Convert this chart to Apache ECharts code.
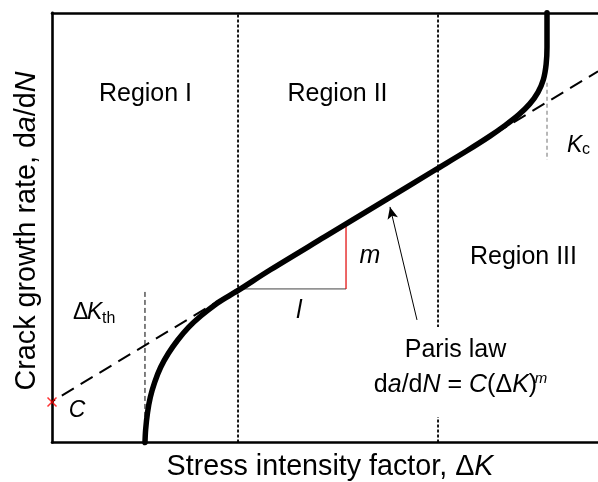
<!DOCTYPE html>
<html>
<head>
<meta charset="utf-8">
<script src="https://cdn.jsdelivr.net/npm/echarts@6/dist/echarts.min.js"></script>
<style>
html,body{margin:0;padding:0;background:#fff;}
#chart{width:598px;height:482px;}
</style>
</head>
<body>
<div id="chart"></div>
<script>
// Schematic values (arbitrary log units, 0-100 on both axes)
const curveDK   = [17.03, 17.15, 17.5, 18.0, 18.8, 19.9, 21.3, 23.0, 25.0, 27.3, 30.0, 32.5, 34.1, 40.0, 50.0, 60.0, 70.0, 76.0, 80.2, 83.0, 85.5, 87.5, 89.0, 90.0, 90.5, 90.66, 90.66];
const curveRate = [0, 3, 7, 10.5, 14, 17.5, 20.7, 23.8, 26.8, 29.5, 32.2, 34.2, 35.4, 40.2, 47.9, 55.6, 63.3, 67.9, 71.3, 73.8, 76.3, 78.8, 81.5, 84.5, 88, 92, 100];
const parisDK   = [-1.65, 100];
const parisRate = [8.27, 86.38];
const regionBounds = [34.07, 70.70];
const dKth = 17.03, dKthTop = 35.04;
const Kc = 90.66, KcRange = [83.7, 65.77];
const triDK = [34.9, 53.85], triRate = [35.74, 50.41];
const arrowFrom = [66.85, 28.52], arrowTo = [61.90, 54.83];
const C_point = [0, 9.43];

const FF = "'Liberation Sans', Arial, sans-serif";
const zip = (a, b) => a.map((v, i) => [v, b[i]]);

const chart = echarts.init(document.getElementById('chart'), null, {renderer: 'canvas'});
const axisLine = {show: true, lineStyle: {color: '#000', width: 2.6}};
const bare = {axisTick: {show: false}, axisLabel: {show: false}, splitLine: {show: false}};

function txt(x, y, text, size, opts) {
  return {
    type: 'text', x: x, y: y, z: 100,
    style: Object.assign({
      text: text, font: size + 'px ' + FF, fill: '#000',
      align: 'center', verticalAlign: 'middle', textAlign: 'center', textVerticalAlign: 'middle'
    }, opts || {})
  };
}
function itxt(x, y, text, size, opts) {
  return txt(x, y, text, size, Object.assign({font: 'italic ' + size + 'px ' + FF}, opts || {}));
}

const series = [];
// Paris-law dashed line
series.push({type: 'line', data: zip(parisDK, parisRate), symbol: 'none', clip: false, z: 3,
  lineStyle: {color: '#000', width: 2, type: [14, 8]}, animation: false, silent: true});
// Region boundaries
regionBounds.forEach(b => series.push({type: 'line', data: [[b, 0], [b, 100]], symbol: 'none', z: 2,
  lineStyle: {color: '#000', width: 1.8, type: [3, 2]}, animation: false, silent: true}));
// Threshold and Kc markers
series.push({type: 'line', data: [[dKth, dKthTop], [dKth, 0]], symbol: 'none', z: 2,
  lineStyle: {color: '#000', width: 1, type: [5, 3]}, animation: false, silent: true});
series.push({type: 'line', data: [[Kc, KcRange[0]], [Kc, KcRange[1]]], symbol: 'none', z: 2,
  lineStyle: {color: '#888', width: 1.2, type: [4, 3]}, animation: false, silent: true});
// slope triangle
series.push({type: 'line', data: [[triDK[0], triRate[0]], [triDK[1], triRate[0]]], symbol: 'none', z: 2,
  lineStyle: {color: '#444', width: 1}, animation: false, silent: true});
series.push({type: 'line', data: [[triDK[1], triRate[0]], [triDK[1], triRate[1]]], symbol: 'none', z: 2,
  lineStyle: {color: '#e00000', width: 1.2}, animation: false, silent: true});
// main curve
series.push({type: 'line', data: zip(curveDK, curveRate), symbol: 'none', smooth: 0.3, clip: false, z: 5,
  lineStyle: {color: '#000', width: 5.5, cap: 'round', join: 'round'}, animation: false, silent: true,
  markLine: {silent: true, symbol: ['none', 'arrow'], symbolSize: [8, 12], label: {show: false},
    lineStyle: {color: '#000', width: 1, type: 'solid'}, animation: false,
    data: [[{coord: arrowFrom}, {coord: arrowTo}]]}});
// C marker
series.push({type: 'scatter', data: [C_point], symbol: 'path://M0,0L10,10M10,0L0,10', symbolSize: 9, z: 6, clip: false,
  itemStyle: {color: 'none', borderColor: '#ff0000', borderWidth: 1.5}, animation: false, silent: true});

const option = {
  backgroundColor: '#fff',
  animation: false,
  grid: {left: 52, right: 0, top: 12.8, bottom: 39.5},
  xAxis: [
    Object.assign({type: 'value', min: 0, max: 100, position: 'bottom', axisLine: axisLine}, bare),
    Object.assign({type: 'value', min: 0, max: 100, position: 'top', axisLine: axisLine}, bare)
  ],
  yAxis: Object.assign({type: 'value', min: 0, max: 100, axisLine: axisLine}, bare),
  series: series,
  graphic: [
    txt(145.5, 94, 'Region I', 25),
    txt(337.5, 94, 'Region II', 25),
    txt(523.5, 257, 'Region III', 25),
    itxt(370, 256, 'm', 25),
    itxt(299, 311, 'l', 25),
    txt(73, 313, 'Δ', 23, {align: 'left', textAlign: 'left'}),
    itxt(87, 313, 'K', 23, {align: 'left', textAlign: 'left'}),
    txt(102, 319, 'th', 16, {align: 'left', textAlign: 'left'}),
    itxt(567, 146, 'K', 23, {align: 'left', textAlign: 'left'}),
    txt(582, 150, 'c', 16, {align: 'left', textAlign: 'left'}),
    itxt(77, 411, 'C', 23),
    {type: 'text', x: 455.5, y: 372, z: 90, style: {
      text: '{n|Paris law}\n{n|d}{i|a}{n|/d}{i|N}{n| = }{i|C}{n|(Δ}{i|K}{n|)}',
      align: 'center', verticalAlign: 'middle', textAlign: 'center', textVerticalAlign: 'middle',
      backgroundColor: '#fff', padding: [6, 0, 14, 0],
      rich: {n: {font: '25px ' + FF, fill: '#000', lineHeight: 35}, i: {font: 'italic 25px ' + FF, fill: '#000', lineHeight: 35}}
    }},
    itxt(541, 379, 'm', 15, {}),
    {type: 'text', x: 330, y: 467, z: 100, style: {
      text: '{n|Stress intensity factor, Δ}{i|K}', align: 'center', verticalAlign: 'middle', textAlign: 'center', textVerticalAlign: 'middle',
      rich: {n: {font: '28.7px ' + FF, fill: '#000'}, i: {font: 'italic 28.7px ' + FF, fill: '#000'}}
    }},
    {type: 'text', x: 27, y: 231, rotation: Math.PI / 2, z: 100, style: {
      text: '{n|Crack growth rate, d}{i|a}{n|/d}{i|N}', align: 'center', verticalAlign: 'middle', textAlign: 'center', textVerticalAlign: 'middle',
      rich: {n: {font: '28.7px ' + FF, fill: '#000'}, i: {font: 'italic 28.7px ' + FF, fill: '#000'}}
    }}
  ]
};
chart.setOption(option);
</script>
</body>
</html>
